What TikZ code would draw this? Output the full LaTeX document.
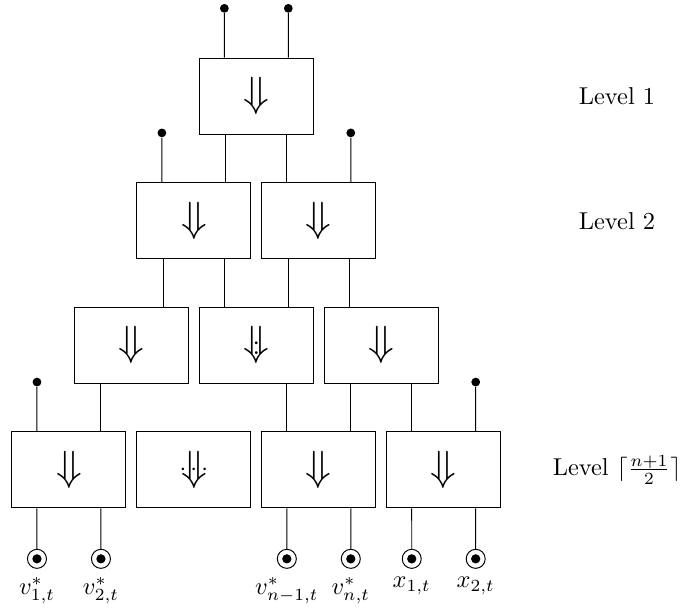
\documentclass[tikz,border=0pt]{standalone}
\usetikzlibrary{positioning}
\begin{document}
\begin{tikzpicture}[x=.9cm,y=1.795cm]
      \useasboundingbox (-0.104,-1.14) rectangle (10.879,3.772);

      \begin{scope}[every node/.style={draw,minimum width=1.643cm,minimum height=1.095cm,font=\LARGE}]
        \node (b1)  at (4,3) {$\Downarrow$};
        \node (b21) at (3,2) {$\Downarrow$};
        \node (b22) at (5,2) {$\Downarrow$};
        \node (b31) at (2,1) {$\Downarrow$};
        \node (b32) at (4,1) {$\Downarrow$};
        \node (b33) at (6,1) {$\Downarrow$};
        \node (b41) at (1,0) {$\Downarrow$};
        \node (b42) at (3,0) {$\Downarrow$};
        \node (b43) at (5,0) {$\Downarrow$};
        \node (b44) at (7,0) {$\Downarrow$};
      \end{scope}

      \node (vd) at ([yshift=-1.2pt]b32.center) {\large$:$};
      \node (hd) at (b42.center) {$\cdots$};

      \begin{scope}[every node/.style={circle,fill,inner sep=0pt,minimum size=3.6pt}]
        \node (d1) at (3.488,3.705) {};
        \node (d2) at (4.512,3.705) {};
        \node (d3) at (2.488,2.705) {};
        \node (d4) at (5.512,2.705) {};
        \node (d5) at (0.488,0.705) {};
        \node (d6) at (7.512,0.705) {};
      \end{scope}

      \begin{scope}[every node/.style={circle,draw,inner sep=0pt,minimum size=7.8pt,
          path picture={\fill (path picture bounding box.center) circle (1.9pt);}}]
        \node (c1) at (0.488,-0.714) {};
        \node (c2) at (1.512,-0.714) {};
        \node (c3) at (4.488,-0.714) {};
        \node (c4) at (5.512,-0.714) {};
        \node (c5) at (6.488,-0.714) {};
        \node (c6) at (7.512,-0.714) {};
      \end{scope}

      \node[below=0pt of c1] (l1) {$v^*_{1,t}$};
      \node[below=0pt of c2] (l2) {$v^*_{2,t}$};
      \node[below=0pt of c3] (l3) {$v^*_{n-1,t}$};
      \node[below=0pt of c4] (l4) {$v^*_{n,t}$};
      \node[below=0pt of c5] (l5) {$x_{1,t}$};
      \node[below=0pt of c6] (l6) {$x_{2,t}$};

      \node (lv1) at (9.774,3) {Level 1};
      \node (lv2) at (9.774,2) {Level 2};
      \node (lvn) at (9.774,0) {Level $\lceil\frac{n+1}{2}\rceil$};

      \begin{scope}[every edge/.style={draw}]
        % level 1
        \path (d1) edge ([xshift=-4.61mm]b1.north);
        \path (d2) edge ([xshift=4.61mm]b1.north);
        \path ([xshift=4.61mm]b21.north) edge ([xshift=4.61mm]b21.north |- b1.south);
        \path ([xshift=-4.61mm]b22.north) edge ([xshift=-4.61mm]b22.north |- b1.south);
        % level 2
        \path (d3) edge ([xshift=-4.61mm]b21.north);
        \path (d4) edge ([xshift=4.61mm]b22.north);
        \path ([xshift=4.61mm]b31.north) edge ([xshift=4.61mm]b31.north |- b21.south);
        \path ([xshift=-4.61mm]b32.north) edge ([xshift=-4.61mm]b32.north |- b21.south);
        \path ([xshift=4.61mm]b32.north) edge ([xshift=4.61mm]b32.north |- b22.south);
        \path ([xshift=-4.61mm]b33.north) edge ([xshift=-4.61mm]b33.north |- b22.south);
        % level 3
        \path ([xshift=4.61mm]b41.north) edge ([xshift=4.61mm]b41.north |- b31.south);
        \path ([xshift=-4.61mm]b43.north) edge ([xshift=-4.61mm]b43.north |- b32.south);
        \path ([xshift=4.61mm]b43.north) edge ([xshift=4.61mm]b43.north |- b33.south);
        \path ([xshift=-4.61mm]b44.north) edge ([xshift=-4.61mm]b44.north |- b33.south);
        \path (d5) edge ([xshift=-4.61mm]b41.north);
        \path (d6) edge ([xshift=4.61mm]b44.north);
        % inputs
        \path ([xshift=-4.61mm]b41.south) edge (c1);
        \path ([xshift=4.61mm]b41.south) edge (c2);
        \path ([xshift=-4.61mm]b43.south) edge (c3);
        \path ([xshift=4.61mm]b43.south) edge (c4);
        \path ([xshift=-4.61mm]b44.south) edge (c5);
        \path ([xshift=4.61mm]b44.south) edge (c6);
      \end{scope}

    \end{tikzpicture}
\end{document}
